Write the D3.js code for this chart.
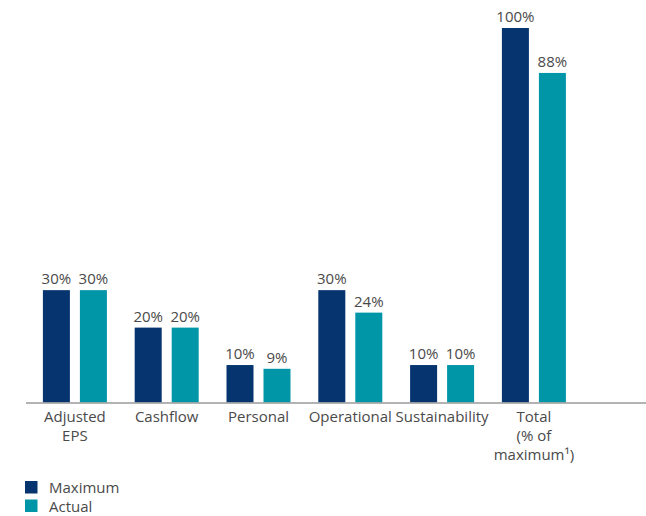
<!DOCTYPE html>
<html>
<head>
<meta charset="utf-8">
<script src="https://cdn.jsdelivr.net/npm/d3@7"></script>
<style>
  html, body { margin: 0; padding: 0; background: #fff; }
  svg { display: block; }
  text { font-family: "Open Sans", "Noto Sans", sans-serif; fill: #4a4a4a; }
</style>
</head>
<body>
<svg id="chart" width="646" height="516"></svg>
<script>
const categories = ["Adjusted\nEPS", "Cashflow", "Personal", "Operational", "Sustainability", "Total\n(% of\nmaximum¹)", ""];
const maximumValues = [30, 20, 10, 30, 10, 100, 0];
const actualValues = [30, 20, 9, 24, 10, 88, 0];
const seriesNames = ["Maximum", "Actual"];
const seriesColors = ["#05346f", "#0096a8"];

const svg = d3.select("#chart");

const x = d3.scaleBand().domain(d3.range(categories.length)).range([29, 29 + 7 * 91.8]).padding(0);
const y = d3.scaleLinear().domain([0, 100]).range([402.5, 28]);

const barW = 27, gap = 10;
const series = [maximumValues, actualValues];

const gBars = svg.append("g");
series.forEach((vals, si) => {
  const off = si === 0 ? -(barW + gap / 2) : gap / 2;
  vals.forEach((v, i) => {
    if (categories[i] === "") return;
    const cx = x(i) + x.bandwidth() / 2;
    gBars.append("rect")
      .attr("x", cx + off)
      .attr("y", y(v))
      .attr("width", barW)
      .attr("height", y(0) - y(v))
      .attr("fill", seriesColors[si]);
    gBars.append("text")
      .attr("x", cx + off + barW / 2)
      .attr("y", y(v) - 6)
      .attr("text-anchor", "middle")
      .attr("font-size", 15)
      .text(v + "%");
  });
});

// axis baseline
svg.append("line")
  .attr("x1", 26).attr("x2", 646)
  .attr("y1", y(0) + 0.5).attr("y2", y(0) + 0.5)
  .attr("stroke", "#9a9a9a").attr("stroke-width", 1.5);

// category labels
categories.forEach((c, i) => {
  if (!c) return;
  const cx = x(i) + x.bandwidth() / 2;
  const t = svg.append("text")
    .attr("x", cx)
    .attr("y", 422)
    .attr("text-anchor", "middle")
    .attr("font-size", 15);
  c.split("\n").forEach((line, li) => {
    t.append("tspan").attr("x", cx).attr("dy", li === 0 ? 0 : 19).text(line);
  });
});

// legend
const lg = svg.append("g");
seriesNames.forEach((n, i) => {
  lg.append("rect")
    .attr("x", 25).attr("y", 481 + i * 18.5)
    .attr("width", 12.5).attr("height", 12.5)
    .attr("fill", seriesColors[i]);
  lg.append("text")
    .attr("x", 49).attr("y", 493 + i * 18.5)
    .attr("font-size", 15)
    .text(n);
});
</script>
</body>
</html>
